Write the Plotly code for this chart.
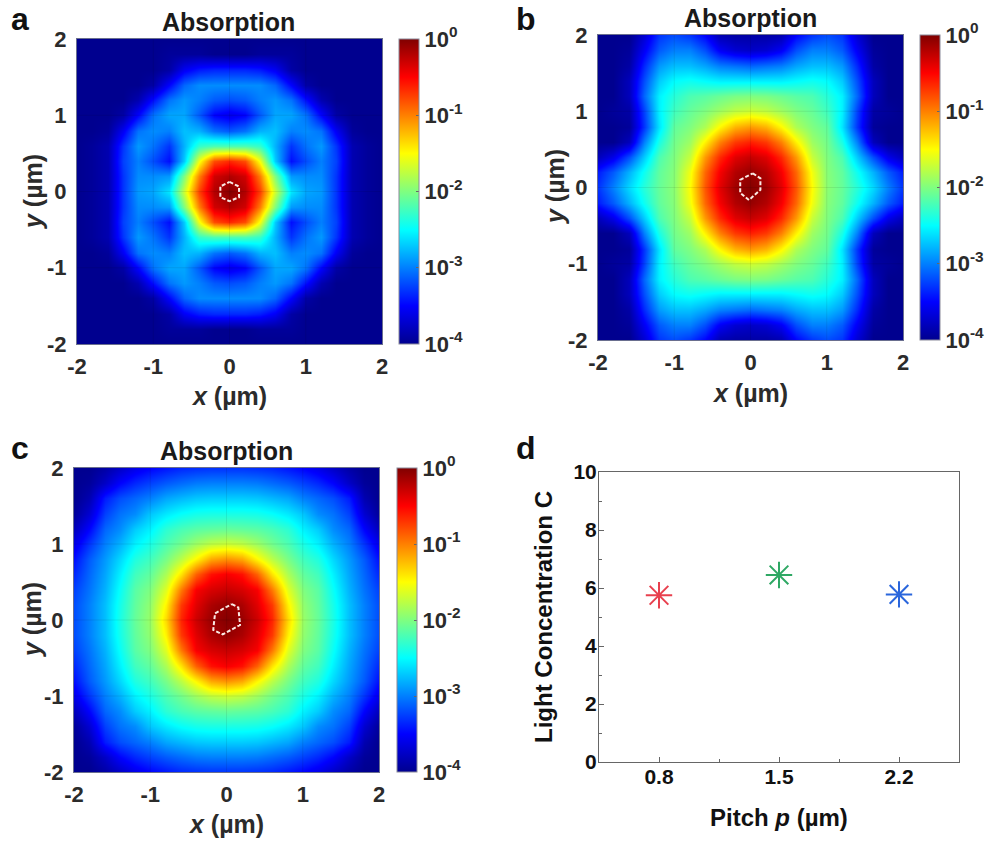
import plotly.graph_objects as go

W, H = 993, 842
grid_x = [-2.0,-1.8,-1.6,-1.4,-1.2,-1.0,-0.8,-0.6,-0.4,-0.2,0.0,0.2,0.4,0.6,0.8,1.0,1.2,1.4,1.6,1.8,2.0]
grid_y = [2.0,1.8,1.6,1.4,1.2,1.0,0.8,0.6,0.4,0.2,0.0,-0.2,-0.4,-0.6,-0.8,-1.0,-1.2,-1.4,-1.6,-1.8,-2.0]

# log10(absorption), rows from y=2 down to y=-2, columns from x=-2 to x=2
absorption_a = [
[-4,-4,-4,-4,-4,-4,-4,-4,-4,-4,-4,-4,-4,-4,-4,-4,-4,-4,-4,-4,-4],
[-4,-4,-4,-4,-4,-4,-3.95,-3.95,-3.95,-4,-4,-4,-3.95,-3.95,-3.95,-4,-4,-4,-4,-4,-4],
[-4,-4,-4,-4,-4,-4,-3.9,-3.55,-3.4,-3.35,-3.35,-3.35,-3.4,-3.55,-3.9,-4,-4,-4,-4,-4,-4],
[-4,-4,-4,-4,-4,-3.9,-3.5,-3.1,-2.95,-2.95,-2.95,-2.95,-2.95,-3.1,-3.5,-3.9,-4,-4,-4,-4,-4],
[-4,-4,-4,-4,-3.85,-3.45,-3.05,-2.9,-3.0,-3.15,-3.2,-3.15,-3.0,-2.9,-3.05,-3.45,-3.85,-4,-4,-4,-4],
[-4,-4,-4,-3.9,-3.5,-3.05,-2.85,-2.85,-3.15,-3.5,-3.6,-3.5,-3.15,-2.85,-2.85,-3.05,-3.5,-3.9,-4,-4,-4],
[-4,-4,-3.95,-3.55,-3.05,-2.95,-3.0,-2.75,-2.8,-3.05,-3.15,-3.05,-2.8,-2.75,-3.0,-2.95,-3.05,-3.55,-3.95,-4,-4],
[-4,-3.95,-3.85,-3.3,-2.9,-3.05,-3.3,-2.8,-2.3,-2.2,-2.2,-2.2,-2.3,-2.8,-3.3,-3.05,-2.9,-3.3,-3.85,-3.95,-4],
[-4,-3.95,-3.85,-3.25,-3.0,-3.2,-3.45,-2.7,-1.55,-0.8,-0.65,-0.8,-1.55,-2.7,-3.45,-3.2,-3.0,-3.25,-3.85,-3.95,-4],
[-4,-3.95,-3.85,-3.3,-2.95,-2.95,-2.9,-2.0,-1.0,-0.32,-0.2,-0.32,-1.0,-2.0,-2.9,-2.95,-2.95,-3.3,-3.85,-3.95,-4],
[-4,-3.95,-3.85,-3.3,-2.9,-2.85,-2.6,-1.7,-0.75,-0.2,-0.02,-0.2,-0.75,-1.7,-2.6,-2.85,-2.9,-3.3,-3.85,-3.95,-4],
[-4,-3.95,-3.85,-3.3,-2.95,-2.95,-2.9,-2.0,-1.0,-0.32,-0.2,-0.32,-1.0,-2.0,-2.9,-2.95,-2.95,-3.3,-3.85,-3.95,-4],
[-4,-3.95,-3.85,-3.25,-3.0,-3.2,-3.45,-2.7,-1.55,-0.8,-0.65,-0.8,-1.55,-2.7,-3.45,-3.2,-3.0,-3.25,-3.85,-3.95,-4],
[-4,-3.95,-3.85,-3.3,-2.9,-3.05,-3.3,-2.8,-2.3,-2.2,-2.2,-2.2,-2.3,-2.8,-3.3,-3.05,-2.9,-3.3,-3.85,-3.95,-4],
[-4,-4,-3.95,-3.55,-3.05,-2.95,-3.0,-2.75,-2.8,-3.05,-3.15,-3.05,-2.8,-2.75,-3.0,-2.95,-3.05,-3.55,-3.95,-4,-4],
[-4,-4,-4,-3.9,-3.5,-3.05,-2.85,-2.85,-3.15,-3.5,-3.6,-3.5,-3.15,-2.85,-2.85,-3.05,-3.5,-3.9,-4,-4,-4],
[-4,-4,-4,-4,-3.85,-3.45,-3.05,-2.9,-3.0,-3.15,-3.2,-3.15,-3.0,-2.9,-3.05,-3.45,-3.85,-4,-4,-4,-4],
[-4,-4,-4,-4,-4,-3.9,-3.5,-3.1,-2.95,-2.95,-2.95,-2.95,-2.95,-3.1,-3.5,-3.9,-4,-4,-4,-4,-4],
[-4,-4,-4,-4,-4,-4,-3.9,-3.55,-3.4,-3.35,-3.35,-3.35,-3.4,-3.55,-3.9,-4,-4,-4,-4,-4,-4],
[-4,-4,-4,-4,-4,-4,-3.95,-3.95,-3.95,-4,-4,-4,-3.95,-3.95,-3.95,-4,-4,-4,-4,-4,-4],
[-4,-4,-4,-4,-4,-4,-4,-4,-4,-4,-4,-4,-4,-4,-4,-4,-4,-4,-4,-4,-4],
]
absorption_b = [
[-4,-4,-4,-3.7,-3.3,-3.2,-3.3,-3.5,-3.85,-3.9,-3.9,-3.9,-3.85,-3.5,-3.3,-3.2,-3.3,-3.7,-4,-4,-4],
[-4,-4,-3.95,-3.55,-3.15,-3.0,-3.0,-3.2,-3.55,-3.7,-3.75,-3.7,-3.55,-3.2,-3.0,-3.0,-3.15,-3.55,-3.95,-4,-4],
[-4,-4,-3.9,-3.35,-2.9,-2.75,-2.75,-2.85,-3.0,-3.05,-3.1,-3.05,-3.0,-2.85,-2.75,-2.75,-2.9,-3.35,-3.9,-4,-4],
[-4,-4,-3.8,-3.2,-2.7,-2.5,-2.45,-2.5,-2.55,-2.55,-2.55,-2.55,-2.55,-2.5,-2.45,-2.5,-2.7,-3.2,-3.8,-4,-4],
[-4,-4,-3.8,-3.1,-2.55,-2.35,-2.2,-2.15,-2.08,-2.02,-2.0,-2.02,-2.08,-2.15,-2.2,-2.35,-2.55,-3.1,-3.8,-4,-4],
[-4,-3.95,-3.9,-3.25,-2.55,-2.25,-2.1,-2.0,-1.87,-1.75,-1.7,-1.75,-1.87,-2.0,-2.1,-2.25,-2.55,-3.25,-3.9,-3.95,-4],
[-4,-4,-3.95,-3.3,-2.6,-2.12,-2.0,-1.82,-1.47,-1.2,-1.1,-1.2,-1.47,-1.82,-2.0,-2.12,-2.6,-3.3,-3.95,-4,-4],
[-4,-4,-3.8,-3.0,-2.4,-2.05,-1.88,-1.45,-1.0,-0.72,-0.62,-0.72,-1.0,-1.45,-1.88,-2.05,-2.4,-3.0,-3.8,-4,-4],
[-3.8,-3.6,-3.2,-2.7,-2.2,-2.0,-1.72,-1.1,-0.65,-0.38,-0.28,-0.38,-0.65,-1.1,-1.72,-2.0,-2.2,-2.7,-3.2,-3.6,-3.8],
[-3.4,-3.15,-2.8,-2.45,-2.12,-1.97,-1.55,-0.9,-0.46,-0.2,-0.09,-0.2,-0.46,-0.9,-1.55,-1.97,-2.12,-2.45,-2.8,-3.15,-3.4],
[-3.3,-3.0,-2.65,-2.35,-2.1,-1.95,-1.5,-0.83,-0.38,-0.12,-0.02,-0.12,-0.38,-0.83,-1.5,-1.95,-2.1,-2.35,-2.65,-3.0,-3.3],
[-3.4,-3.15,-2.8,-2.45,-2.12,-1.97,-1.55,-0.9,-0.46,-0.2,-0.09,-0.2,-0.46,-0.9,-1.55,-1.97,-2.12,-2.45,-2.8,-3.15,-3.4],
[-3.8,-3.6,-3.2,-2.7,-2.2,-2.0,-1.72,-1.1,-0.65,-0.38,-0.28,-0.38,-0.65,-1.1,-1.72,-2.0,-2.2,-2.7,-3.2,-3.6,-3.8],
[-4,-4,-3.8,-3.0,-2.4,-2.05,-1.88,-1.45,-1.0,-0.72,-0.62,-0.72,-1.0,-1.45,-1.88,-2.05,-2.4,-3.0,-3.8,-4,-4],
[-4,-4,-3.95,-3.3,-2.6,-2.12,-2.0,-1.82,-1.47,-1.2,-1.1,-1.2,-1.47,-1.82,-2.0,-2.12,-2.6,-3.3,-3.95,-4,-4],
[-4,-3.95,-3.9,-3.25,-2.55,-2.25,-2.1,-2.0,-1.87,-1.75,-1.7,-1.75,-1.87,-2.0,-2.1,-2.25,-2.55,-3.25,-3.9,-3.95,-4],
[-4,-4,-3.8,-3.1,-2.55,-2.35,-2.2,-2.15,-2.08,-2.02,-2.0,-2.02,-2.08,-2.15,-2.2,-2.35,-2.55,-3.1,-3.8,-4,-4],
[-4,-4,-3.8,-3.2,-2.7,-2.5,-2.45,-2.5,-2.55,-2.55,-2.55,-2.55,-2.55,-2.5,-2.45,-2.5,-2.7,-3.2,-3.8,-4,-4],
[-4,-4,-3.9,-3.35,-2.9,-2.75,-2.75,-2.85,-3.0,-3.05,-3.1,-3.05,-3.0,-2.85,-2.75,-2.75,-2.9,-3.35,-3.9,-4,-4],
[-4,-4,-3.95,-3.55,-3.15,-3.0,-3.0,-3.2,-3.55,-3.7,-3.75,-3.7,-3.55,-3.2,-3.0,-3.0,-3.15,-3.55,-3.95,-4,-4],
[-4,-4,-4,-3.7,-3.3,-3.2,-3.3,-3.5,-3.85,-3.9,-3.9,-3.9,-3.85,-3.5,-3.3,-3.2,-3.3,-3.7,-4,-4,-4],
]
absorption_c = [
[-4,-4,-3.9,-3.75,-3.6,-3.5,-3.42,-3.35,-3.32,-3.3,-3.3,-3.3,-3.32,-3.35,-3.42,-3.5,-3.6,-3.75,-3.9,-4,-4],
[-4,-3.95,-3.75,-3.5,-3.35,-3.25,-3.15,-3.08,-3.02,-3.0,-3.0,-3.0,-3.02,-3.08,-3.15,-3.25,-3.35,-3.5,-3.75,-3.95,-4],
[-4,-3.85,-3.4,-3.2,-3.1,-3.0,-2.85,-2.78,-2.72,-2.7,-2.7,-2.7,-2.72,-2.78,-2.85,-3.0,-3.1,-3.2,-3.4,-3.85,-4],
[-3.95,-3.7,-3.25,-3.05,-2.95,-2.72,-2.58,-2.48,-2.42,-2.4,-2.4,-2.4,-2.42,-2.48,-2.58,-2.72,-2.95,-3.05,-3.25,-3.7,-3.95],
[-3.8,-3.5,-3.1,-2.95,-2.7,-2.55,-2.33,-2.22,-2.15,-2.12,-2.1,-2.12,-2.15,-2.22,-2.33,-2.55,-2.7,-2.95,-3.1,-3.5,-3.8],
[-3.6,-3.3,-3.0,-2.8,-2.55,-2.4,-2.2,-2.05,-1.88,-1.75,-1.7,-1.75,-1.88,-2.05,-2.2,-2.4,-2.55,-2.8,-3.0,-3.3,-3.6],
[-3.45,-3.15,-2.9,-2.65,-2.38,-2.25,-2.03,-1.77,-1.47,-1.16,-1.07,-1.16,-1.47,-1.77,-2.03,-2.25,-2.38,-2.65,-2.9,-3.15,-3.45],
[-3.35,-3.1,-2.85,-2.55,-2.25,-2.12,-1.83,-1.4,-0.88,-0.56,-0.47,-0.56,-0.88,-1.4,-1.83,-2.12,-2.25,-2.55,-2.85,-3.1,-3.35],
[-3.25,-3.05,-2.8,-2.47,-2.15,-2.0,-1.62,-0.97,-0.47,-0.34,-0.28,-0.34,-0.47,-0.97,-1.62,-2.0,-2.15,-2.47,-2.8,-3.05,-3.25],
[-3.2,-3.0,-2.75,-2.42,-2.12,-1.93,-1.45,-0.72,-0.38,-0.17,-0.08,-0.17,-0.38,-0.72,-1.45,-1.93,-2.12,-2.42,-2.75,-3.0,-3.2],
[-3.2,-3.0,-2.75,-2.4,-2.1,-1.9,-1.35,-0.64,-0.3,-0.1,-0.02,-0.1,-0.3,-0.64,-1.35,-1.9,-2.1,-2.4,-2.75,-3.0,-3.2],
[-3.2,-3.0,-2.75,-2.42,-2.12,-1.93,-1.45,-0.72,-0.38,-0.17,-0.08,-0.17,-0.38,-0.72,-1.45,-1.93,-2.12,-2.42,-2.75,-3.0,-3.2],
[-3.25,-3.05,-2.8,-2.47,-2.15,-2.0,-1.62,-0.97,-0.47,-0.34,-0.28,-0.34,-0.47,-0.97,-1.62,-2.0,-2.15,-2.47,-2.8,-3.05,-3.25],
[-3.35,-3.1,-2.85,-2.55,-2.25,-2.12,-1.83,-1.4,-0.88,-0.56,-0.47,-0.56,-0.88,-1.4,-1.83,-2.12,-2.25,-2.55,-2.85,-3.1,-3.35],
[-3.45,-3.15,-2.9,-2.65,-2.38,-2.25,-2.03,-1.77,-1.47,-1.16,-1.07,-1.16,-1.47,-1.77,-2.03,-2.25,-2.38,-2.65,-2.9,-3.15,-3.45],
[-3.6,-3.3,-3.0,-2.8,-2.55,-2.4,-2.2,-2.05,-1.88,-1.75,-1.7,-1.75,-1.88,-2.05,-2.2,-2.4,-2.55,-2.8,-3.0,-3.3,-3.6],
[-3.8,-3.5,-3.1,-2.95,-2.7,-2.55,-2.33,-2.22,-2.15,-2.12,-2.1,-2.12,-2.15,-2.22,-2.33,-2.55,-2.7,-2.95,-3.1,-3.5,-3.8],
[-3.95,-3.7,-3.25,-3.05,-2.95,-2.72,-2.58,-2.48,-2.42,-2.4,-2.4,-2.4,-2.42,-2.48,-2.58,-2.72,-2.95,-3.05,-3.25,-3.7,-3.95],
[-4,-3.85,-3.4,-3.2,-3.1,-3.0,-2.85,-2.78,-2.72,-2.7,-2.7,-2.7,-2.72,-2.78,-2.85,-3.0,-3.1,-3.2,-3.4,-3.85,-4],
[-4,-3.95,-3.75,-3.5,-3.35,-3.25,-3.15,-3.08,-3.02,-3.0,-3.0,-3.0,-3.02,-3.08,-3.15,-3.25,-3.35,-3.5,-3.75,-3.95,-4],
[-4,-4,-3.9,-3.75,-3.6,-3.5,-3.42,-3.35,-3.32,-3.3,-3.3,-3.3,-3.32,-3.35,-3.42,-3.5,-3.6,-3.75,-3.9,-4,-4],
]
hex_a_x = [0,0.125,0.125,0,-0.12,-0.12,0]
hex_a_y = [0.125,0.066,-0.075,-0.127,-0.075,0.066,0.125]
hex_b_x = [0.03,0.13,0.13,-0.02,-0.135,-0.135,0.03]
hex_b_y = [0.186,0.12,-0.03,-0.165,-0.07,0.1,0.186]
hex_c_x = [0.07,0.155,0.178,-0.05,-0.174,-0.15,0.07]
hex_c_y = [0.21,0.166,-0.066,-0.19,-0.13,0.088,0.21]

pitch = [0.8, 1.5, 2.2]
concentration = [5.75, 6.45, 5.78]
point_colors = ["#E8404E", "#2FA864", "#2A66DC"]
heat_ticks = [-2, -1, 0, 1, 2]
heat_tick_text = ["-2", "-1", "0", "1", "2"]
cbar_vals = [0, -1, -2, -3, -4]
cbar_text = ["10<sup>0</sup>", "10<sup>-1</sup>", "10<sup>-2</sup>", "10<sup>-3</sup>", "10<sup>-4</sup>"]

jet = [[0, "#00008F"], [0.125, "#0000FF"], [0.375, "#00FFFF"], [0.625, "#FFFF00"], [0.875, "#FF0000"], [1, "#800000"]]
FAM = "Liberation Sans, Arial, sans-serif"
TXT = "#2b2b2b"

def fx(p): return p / W
def fy(p): return 1 - p / H

fig = go.Figure()
panels = [
    (77, 382, 39, 344, 399, 419, absorption_a, hex_a_x, hex_a_y, "", (228, 22), (229, 396), (33, 192)),
    (598, 903, 35, 340, 920, 940, absorption_b, hex_b_x, hex_b_y, "2", (750, 18), (750, 393), (555, 187)),
    (74, 379, 468, 772, 397, 417, absorption_c, hex_c_x, hex_c_y, "3", (226, 451), (226, 824), (32, 620)),
]
shapes = []
anns = []
def add_text(text, pos, size, color="#1a1a1a", angle=0):
    anns.append(dict(text=text, x=fx(pos[0]), y=fy(pos[1]), xref="paper", yref="paper", showarrow=False,
                     xanchor="center", yanchor="middle", textangle=angle,
                     font=dict(family=FAM, size=size, color=color, weight="bold")))

for (l, r, t, b, bl, br, z, hx, hy, ax, tpos, xpos, ypos) in panels:
    xa, ya = "x" + ax, "y" + ax
    fig.add_trace(go.Heatmap(
        x=grid_x, y=grid_y, z=z, zmin=-4, zmax=0, zsmooth="best", colorscale=jet, xaxis=xa, yaxis=ya,
        colorbar=dict(x=fx(bl), xanchor="left", xpad=0, ypad=0, y=fy((t + b) / 2), yanchor="middle",
                      len=(b - t) / H, thickness=br - bl, tickvals=cbar_vals, ticktext=cbar_text,
                      ticks="inside", ticklen=3, tickcolor="#666", outlinecolor="#8a8a9a", outlinewidth=1,
                      tickfont=dict(family=FAM, size=22, color=TXT, weight="bold"))))
    fig.add_trace(go.Scatter(x=hx, y=hy, mode="lines", xaxis=xa, yaxis=ya, showlegend=False,
                             line=dict(color="#FBE9E4", width=2, dash="4px,2px")))
    for v in heat_ticks[1:-1]:
        shapes.append(dict(type="line", xref=xa, yref=ya, x0=v, x1=v, y0=-2, y1=2,
                           line=dict(color="rgba(0,0,0,0.08)", width=1), layer="above"))
        shapes.append(dict(type="line", xref=xa, yref=ya, x0=-2, x1=2, y0=v, y1=v,
                           line=dict(color="rgba(0,0,0,0.08)", width=1), layer="above"))
    axcommon = dict(range=[-2, 2], tickvals=heat_ticks, ticktext=heat_tick_text, showgrid=False, zeroline=False,
                    mirror=True, automargin=False, showline=True, linecolor="#6a6f8f", linewidth=1, ticks="outside",
                    tickcolor="rgba(0,0,0,0)", tickfont=dict(family=FAM, size=22, color=TXT, weight="bold"))
    fig.layout["xaxis" + ax] = dict(axcommon, domain=[fx(l), fx(r)], anchor=ya, ticklen=3)
    fig.layout["yaxis" + ax] = dict(axcommon, domain=[fy(b), fy(t)], anchor=xa, ticklen=5)
    add_text("Absorption", tpos, 25)
    add_text("<i>x</i> (µm)", xpos, 25, TXT)
    add_text("<i>y</i> (µm)", ypos, 25, TXT, -90)

# panel d
fig.add_trace(go.Scatter(x=pitch, y=concentration, mode="markers", xaxis="x4", yaxis="y4", showlegend=False,
                         marker=dict(symbol="asterisk-open", size=22, color=point_colors,
                                     line=dict(width=2, color=point_colors))))
dfont = dict(family=FAM, size=21, color="#111", weight="bold")
fig.layout.xaxis4 = dict(domain=[fx(599), fx(959)], anchor="y4", range=[0.45, 2.55], tickvals=pitch, automargin=False,
    ticks="inside", ticklen=5, tickcolor="#666", showgrid=False, zeroline=False, mirror=True, showline=True,
    ticklabelstandoff=-4,
    linecolor="#666", linewidth=1, tickfont=dfont, minor=dict(tickvals=[1.15, 1.85], ticks="inside", ticklen=3, tickcolor="#666"))
fig.layout.yaxis4 = dict(domain=[fy(762), fy(472)], anchor="x4", range=[0, 10], tickvals=[0, 2, 4, 6, 8, 10], automargin=False,
    ticks="inside", ticklen=5, tickcolor="#666", showgrid=False, zeroline=False, mirror=True, showline=True,
    ticklabelstandoff=-3,
    linecolor="#666", linewidth=1, tickfont=dfont, minor=dict(tickvals=[1, 3, 5, 7, 9], ticks="inside", ticklen=3, tickcolor="#666"))
add_text("Pitch <i>p</i> (µm)", (779, 817), 24, "#111")
add_text("Light Concentration C", (543, 617), 24, "#111", -90)

for letter, px, py in [("a", 20, 19), ("b", 526, 19), ("c", 20, 448), ("d", 526, 448)]:
    add_text(letter, (px, py), 32, "#111")

fig.update_layout(width=W, height=H, autosize=False, margin=dict(l=0, r=0, t=0, b=0), paper_bgcolor="white",
                  plot_bgcolor="white", showlegend=False, annotations=anns, shapes=shapes)
fig.write_html("out.html", config={"displayModeBar": False},
               post_script="document.body.style.margin='0';document.body.style.overflow='hidden';")
